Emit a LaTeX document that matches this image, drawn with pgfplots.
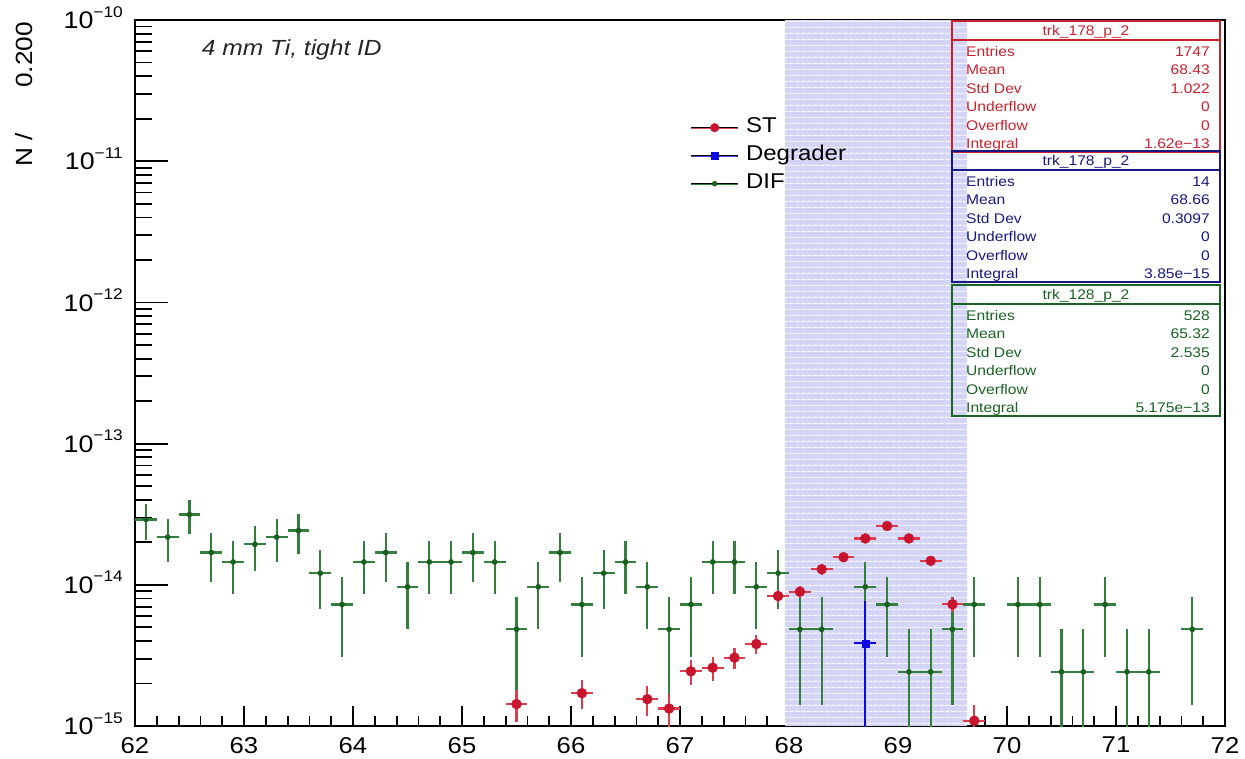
\documentclass[border=0pt]{standalone}
\usepackage{pgfplots}
\pgfplotsset{compat=1.18}
\usepackage{pgfplotstable}
\usetikzlibrary{patterns.meta}
\usepackage{fontspec}
\setmainfont{Liberation Sans}[FakeStretch=1.12]

\definecolor{stred}{RGB}{200,20,45}
\definecolor{stredbar}{RGB}{225,60,75}
\definecolor{stline}{RGB}{220,80,90}
\definecolor{dgreen}{RGB}{25,95,30}
\definecolor{dgreenbar}{RGB}{50,128,60}
\definecolor{dblue}{RGB}{10,10,225}
\definecolor{bline}{RGB}{70,70,200}
\definecolor{lav}{RGB}{212,212,246}
\definecolor{boxred}{RGB}{200,35,45}
\definecolor{boxblue}{RGB}{25,25,130}
\definecolor{boxgreen}{RGB}{25,100,35}

% DIF (green)
\pgfplotstableread{
x y ep em
62.1 2.904e-14 8.38e-15 8.38e-15
62.3 2.178e-14 7.26e-15 7.26e-15
62.5 3.146e-14 8.73e-15 8.73e-15
62.7 1.694e-14 6.40e-15 6.40e-15
62.9 1.452e-14 5.93e-15 5.93e-15
63.1 1.936e-14 6.84e-15 6.84e-15
63.3 2.178e-14 7.26e-15 7.26e-15
63.5 2.420e-14 7.65e-15 7.65e-15
63.7 1.210e-14 5.41e-15 5.41e-15
63.9 7.26e-15 4.19e-15 4.19e-15
64.1 1.452e-14 5.93e-15 5.93e-15
64.3 1.694e-14 6.40e-15 6.40e-15
64.5 9.68e-15 4.84e-15 4.84e-15
64.7 1.452e-14 5.93e-15 5.93e-15
64.9 1.452e-14 5.93e-15 5.93e-15
65.1 1.694e-14 6.40e-15 6.40e-15
65.3 1.452e-14 5.93e-15 5.93e-15
65.5 4.84e-15 3.42e-15 3.42e-15
65.7 9.68e-15 4.84e-15 4.84e-15
65.9 1.694e-14 6.40e-15 6.40e-15
66.1 7.26e-15 4.19e-15 4.19e-15
66.3 1.210e-14 5.41e-15 5.41e-15
66.5 1.452e-14 5.93e-15 5.93e-15
66.7 9.68e-15 4.84e-15 4.84e-15
66.9 4.84e-15 3.42e-15 3.42e-15
67.1 7.26e-15 4.19e-15 4.19e-15
67.3 1.452e-14 5.93e-15 5.93e-15
67.5 1.452e-14 5.93e-15 5.93e-15
67.7 9.68e-15 4.84e-15 4.84e-15
67.9 1.210e-14 5.41e-15 5.41e-15
68.1 4.84e-15 3.42e-15 3.42e-15
68.3 4.84e-15 3.42e-15 3.42e-15
68.7 9.68e-15 4.84e-15 4.84e-15
68.9 7.26e-15 4.19e-15 4.19e-15
69.1 2.42e-15 2.42e-15 2.41e-15
69.3 2.42e-15 2.42e-15 2.41e-15
69.5 4.84e-15 3.42e-15 3.42e-15
69.7 7.26e-15 4.19e-15 4.19e-15
70.1 7.26e-15 4.19e-15 4.19e-15
70.3 7.26e-15 4.19e-15 4.19e-15
70.5 2.42e-15 2.42e-15 2.41e-15
70.7 2.42e-15 2.42e-15 2.41e-15
70.9 7.26e-15 4.19e-15 4.19e-15
71.1 2.42e-15 2.42e-15 2.41e-15
71.3 2.42e-15 2.42e-15 2.41e-15
71.7 4.84e-15 3.42e-15 3.42e-15
}\difdata

% ST (red)
\pgfplotstableread{
x y ep em
65.5 1.43e-15 3.64e-16 3.64e-16
66.1 1.71e-15 3.98e-16 3.98e-16
66.7 1.55e-15 3.79e-16 3.79e-16
66.9 1.33e-15 3.51e-16 3.51e-16
67.1 2.44e-15 4.76e-16 4.76e-16
67.3 2.59e-15 4.90e-16 4.90e-16
67.5 3.05e-15 5.32e-16 5.32e-16
67.7 3.81e-15 5.94e-16 5.94e-16
67.9 8.33e-15 8.79e-16 8.79e-16
68.1 8.94e-15 9.10e-16 9.10e-16
68.3 1.29e-14 1.09e-15 1.09e-15
68.5 1.57e-14 1.21e-15 1.21e-15
68.7 2.13e-14 1.41e-15 1.41e-15
68.9 2.61e-14 1.56e-15 1.56e-15
69.1 2.13e-14 1.41e-15 1.41e-15
69.3 1.48e-14 1.17e-15 1.17e-15
69.5 7.28e-15 8.22e-16 8.22e-16
69.7 1.09e-15 3.18e-16 3.18e-16
}\stdata

% Degrader (blue)
\pgfplotstableread{
x y ep em
68.7 3.85e-15 3.85e-15 3.84e-15
}\degdata

\newcommand{\statbox}[9]{%
\begin{scope}[yshift=#2bp]
\draw[#1, line width=2bp] (817bp,0bp) rectangle (1085bp,-131bp);
\draw[#1, line width=2bp] (817bp,-19bp) -- (1085bp,-19bp);
\node[#1, font=\fontsize{14}{14}\selectfont, anchor=center, inner sep=0pt, text height=10bp, text depth=0pt] at (951bp,-9.5bp) {#3};
\foreach \lab/\val [count=\i from 0] in {Entries/#4, Mean/#5, Std Dev/#6, Underflow/#7, Overflow/#8, Integral/#9} {
  \node[#1, font=\fontsize{14}{14}\selectfont, anchor=west, inner sep=0pt, text height=10bp, text depth=0pt] at (831bp,-30.5bp-18.5bp*\i) {\lab};
  \node[#1, font=\fontsize{14}{14}\selectfont, anchor=east, inner sep=0pt, text height=10bp, text depth=0pt] at (1075bp,-30.5bp-18.5bp*\i) {\val};
}
\end{scope}}

\begin{document}
\begin{tikzpicture}
\useasboundingbox (-135bp,-33bp) rectangle (1110bp,726bp);
\fill[white] (-135bp,-33bp) rectangle (1110bp,726bp);

% main axis with data and x ticks
\begin{axis}[
  at={(0,0)}, anchor=south west, scale only axis,
  width=1090bp, height=706bp,
  xmin=62, xmax=72, ymode=log, ymin=1e-15, ymax=1e-10,
  xtick={62,63,...,72}, minor x tick num=4, xtick pos=left,
  ytick=\empty, yminorticks=false,
  tick align=inside, major tick length=20bp, minor tick length=10bp,
  tick style={black, line width=1.8bp},
  axis line style={black, line width=2bp},
  /pgf/number format/assume math mode=true,
  xticklabel style={font=\fontsize{23}{23}\selectfont, inner sep=0pt, anchor=north, yshift=-11bp},
  legend style={at={(0.5092,0.8676)}, anchor=north west, draw=none, fill=none, inner sep=0pt,
    font=\fontsize{21.5}{21.5}\selectfont, row sep=0pt, column sep=7bp,
    nodes={inner sep=0pt, text height=19bp, text depth=9bp}},
  legend cell align=left,
]
% highlighted window
\addplot[forget plot, draw=none, fill=lav] coordinates {(67.96,1e-15) (67.96,1e-10) (69.63,1e-10) (69.63,1e-15)} -- cycle;
\addplot[forget plot, draw=none, pattern={Lines[distance=6bp, angle=0, line width=1.3bp]}, pattern color=white!80!lav] coordinates {(67.96,1e-15) (67.96,1e-10) (69.63,1e-10) (69.63,1e-15)} -- cycle;

\addlegendimage{legend image code/.code={%
  \draw[stline, line width=1.8bp] (0bp,0bp) -- (47bp,0bp);
  \path[mark=*, mark size=4.3bp, mark options={draw=stred, fill=stred}, mark repeat=2, mark phase=2] plot coordinates {(0bp,0bp) (23.5bp,0bp) (47bp,0bp)};}}
\addlegendentry{ST}
\addlegendimage{legend image code/.code={%
  \draw[bline, line width=1.8bp] (0bp,0bp) -- (47bp,0bp);
  \path[mark=square*, mark size=3.3bp, mark options={draw=dblue, fill=dblue}, mark repeat=2, mark phase=2] plot coordinates {(0bp,0bp) (23.5bp,0bp) (47bp,0bp)};}}
\addlegendentry{Degrader}
\addlegendimage{legend image code/.code={%
  \draw[dgreenbar, line width=1.8bp] (0bp,0bp) -- (47bp,0bp);
  \path[mark=*, mark size=2.5bp, mark options={draw=dgreen, fill=dgreen}, mark repeat=2, mark phase=2] plot coordinates {(0bp,0bp) (23.5bp,0bp) (47bp,0bp)};}}
\addlegendentry{DIF}

\addplot[forget plot, only marks, mark=*, mark size=2.6bp, color=dgreen,
  error bars/.cd, x dir=both, x fixed=0.1, y dir=both, y explicit,
  error bar style={line width=2.3bp, color=dgreenbar}, error mark=none]
  table[x=x, y=y, y error plus=ep, y error minus=em]{\difdata};
\addplot[forget plot, only marks, mark=*, mark size=5bp, color=stred,
  error bars/.cd, x dir=both, x fixed=0.1, y dir=both, y explicit,
  error bar style={line width=2.2bp, color=stredbar}, error mark=none]
  table[x=x, y=y, y error plus=ep, y error minus=em]{\stdata};
\addplot[forget plot, only marks, mark=square*, mark size=3.5bp, color=dblue,
  error bars/.cd, x dir=both, x fixed=0.1, y dir=both, y explicit,
  error bar style={line width=2bp, color=dblue}, error mark=none]
  table[x=x, y=y, y error plus=ep, y error minus=em]{\degdata};
\end{axis}

% second axis: y ticks only
\begin{axis}[
  at={(0,0)}, anchor=south west, scale only axis,
  width=1090bp, height=706bp,
  xmin=62, xmax=72, ymode=log, ymin=1e-15, ymax=1e-10,
  xtick=\empty, xminorticks=false,
  ytick={1e-15,1e-14,1e-13,1e-12,1e-11,1e-10},
  minor ytick={2e-15,3e-15,4e-15,5e-15,6e-15,7e-15,8e-15,9e-15,
               2e-14,3e-14,4e-14,5e-14,6e-14,7e-14,8e-14,9e-14,
               2e-13,3e-13,4e-13,5e-13,6e-13,7e-13,8e-13,9e-13,
               2e-12,3e-12,4e-12,5e-12,6e-12,7e-12,8e-12,9e-12,
               2e-11,3e-11,4e-11,5e-11,6e-11,7e-11,8e-11,9e-11},
  yticklabels={10\raisebox{11.5bp}{\fontsize{15.5}{15.5}\selectfont −15},
               10\raisebox{11.5bp}{\fontsize{15.5}{15.5}\selectfont −14},
               10\raisebox{11.5bp}{\fontsize{15.5}{15.5}\selectfont −13},
               10\raisebox{11.5bp}{\fontsize{15.5}{15.5}\selectfont −12},
               10\raisebox{11.5bp}{\fontsize{15.5}{15.5}\selectfont −11},
               10\raisebox{11.5bp}{\fontsize{15.5}{15.5}\selectfont −10}},
  ytick pos=left, tick align=inside,
  major tick length=33bp, minor tick length=17bp,
  tick style={black, line width=1.8bp},
  axis line style={draw=none},
  yticklabel style={font=\fontsize{24}{24}\selectfont, anchor=base east, inner sep=0pt, xshift=-12bp, yshift=-8.6bp},
]
\end{axis}

% y-axis title
\node[rotate=90, anchor=east, inner sep=0pt, text height=16.8bp, text depth=0pt, font=\fontsize{23.5}{23.5}\selectfont] at (-111bp,704bp) {0.200};
\node[rotate=90, anchor=east, inner sep=0pt, text height=16.8bp, text depth=0pt, font=\fontsize{23.5}{23.5}\selectfont] at (-111bp,593bp) {N /};

% annotation
\node[anchor=base west, inner sep=0pt, font=\fontsize{22}{22}\selectfont\itshape, text=black!85] at (66.7bp,670.5bp) {4 mm Ti, tight ID};

% statistics boxes
\statbox{boxred}{705}{trk\_178\_p\_2}{1747}{68.43}{1.022}{0}{0}{1.62e−13}
\statbox{boxblue}{575}{trk\_178\_p\_2}{14}{68.66}{0.3097}{0}{0}{3.85e−15}
\statbox{boxgreen}{441}{trk\_128\_p\_2}{528}{65.32}{2.535}{0}{0}{5.175e−13}
\end{tikzpicture}
\end{document}
